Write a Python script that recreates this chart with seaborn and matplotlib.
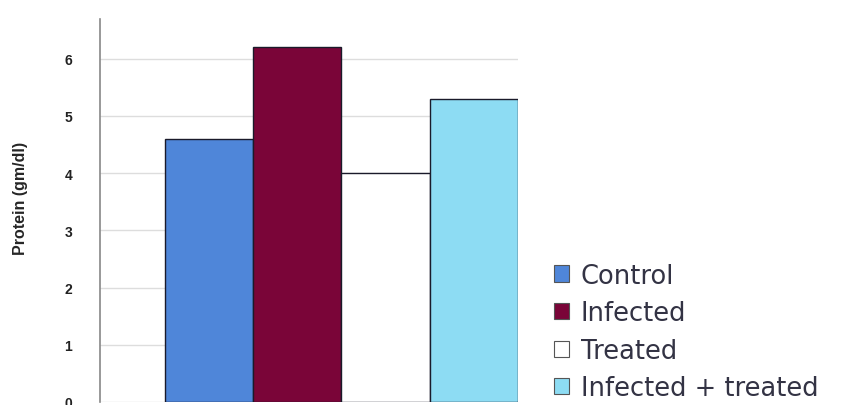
import matplotlib
matplotlib.use("Agg")
import matplotlib.pyplot as plt
import seaborn as sns
import pandas as pd
from matplotlib.patches import Patch

categories = ["Control", "Infected", "Treated", "Infected + treated"]
values = [4.6, 6.2, 4.0, 5.3]
colors = ["#4f86d9", "#7a0538", "#ffffff", "#8ddcf3"]
yticks = [0, 1, 2, 3, 4, 5, 6]

sns.set_style("white")
plt.rcParams['font.family'] = ['Liberation Sans', 'DejaVu Sans']

fig = plt.figure(figsize=(8.46, 4.06), dpi=100)
ax = fig.add_axes([0.118, 0.0074, 0.494, 0.944])

df = pd.DataFrame({"cat": categories, "val": values})
sns.barplot(data=df, x="cat", y="val", hue="cat", palette=colors,
            width=1.0, dodge=False, legend=False, ax=ax, saturation=1,
            edgecolor="#1a1a2a", linewidth=1.0, zorder=3)

ax.set_xlim(-1.24, 3.5)
ax.set_ylim(0, 6.7)
ax.set_yticks(yticks)
ax.set_yticklabels([str(t) for t in yticks], fontsize=10, fontweight="bold", color="#222222")
ax.yaxis.grid(True, color="#dddddd", linewidth=1.0, zorder=0)
ax.set_axisbelow(True)
ax.set_xticks([])
ax.set_xlabel("")
ax.set_ylabel("Protein (gm/dl)", fontsize=11.5, fontweight="bold")
ax.yaxis.set_label_coords(-0.172, 0.535)
ax.tick_params(axis="y", length=6, color="#cccccc", pad=14)
for s in ["top", "right", "bottom"]:
    ax.spines[s].set_visible(False)
ax.spines["left"].set_color("#888888")
ax.spines["left"].set_linewidth(1.2)

handles = [Patch(facecolor=c, edgecolor="#555555", linewidth=0.8) for c in colors]
leg = fig.legend(handles, categories, loc="lower left", bbox_to_anchor=(0.627, -0.048),
                 frameon=False, handlelength=0.6, handleheight=0.6,
                 handletextpad=0.45, labelspacing=0.45, labelcolor="#333344",
                 prop={"family": "DejaVu Sans", "size": 18.5})

fig.savefig("out.png", dpi=100)
